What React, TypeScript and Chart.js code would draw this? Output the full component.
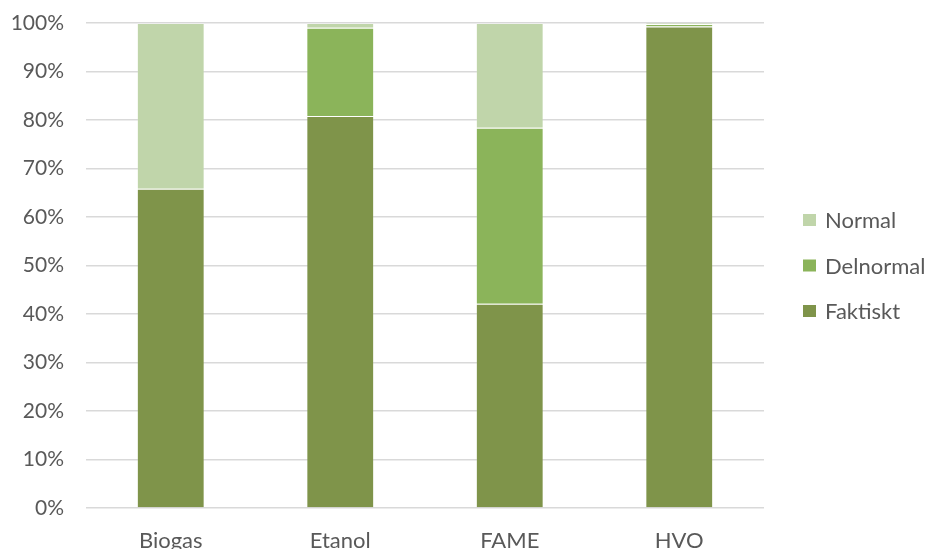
import React, { useEffect, useRef } from "react";
import { Chart, registerables } from "chart.js";

Chart.register(...registerables);

const categories = ["Biogas", "Etanol", "FAME", "HVO"];
const faktiskt = [65.8, 80.8, 42.1, 99.3];
const delnormal = [0, 18.2, 36.3, 0.5];
const normal = [34.2, 1.0, 21.6, 0.2];
const seriesNames = ["Faktiskt", "Delnormal", "Normal"];
const seriesColors = ["#7f944a", "#8bb45a", "#c0d5aa"];

const FONT = "Lato, 'Open Sans', sans-serif";
const TEXT = "#595959";

const sideLegend = {
  id: "sideLegend",
  afterDraw(chart: any) {
    const { ctx, chartArea } = chart;
    const ds = chart.data.datasets.slice().reverse();
    const spacing = 45.5;
    const cy = (chartArea.top + chartArea.bottom) / 2;
    const startY = cy - ((ds.length - 1) * spacing) / 2;
    ctx.save();
    ctx.font = `22px ${FONT}`;
    ctx.textBaseline = "middle";
    ds.forEach((d: any, i: number) => {
      const y = startY + i * spacing;
      ctx.fillStyle = d.backgroundColor;
      ctx.fillRect(chartArea.right + 39, y - 6, 13, 12);
      ctx.fillStyle = TEXT;
      ctx.fillText(d.label, chartArea.right + 61, y + 1);
    });
    ctx.restore();
  },
};

export default function App() {
  const ref = useRef<HTMLCanvasElement>(null);
  useEffect(() => {
    document.body.style.margin = "0";
    const values = [faktiskt, delnormal, normal];
    const chart = new Chart(ref.current!, {
      type: "bar",
      data: {
        labels: categories,
        datasets: seriesNames.map((name, i) => ({
          label: name,
          data: values[i],
          backgroundColor: seriesColors[i],
          borderColor: "rgba(255,255,255,0.12)",
          borderWidth: 1,
          categoryPercentage: 1,
          barPercentage: 0.4,
        })),
      },
      options: {
        animation: false,
        responsive: false,
        maintainAspectRatio: false,
        layout: { autoPadding: false, padding: { top: 23, right: 162, left: 0, bottom: 0 } },
        plugins: { legend: { display: false }, tooltip: { enabled: false } },
        scales: {
          x: {
            stacked: true,
            afterFit: (s: any) => {
              s.height = 41;
            },
            grid: { display: false, drawTicks: false },
            border: { display: false },
            ticks: { color: TEXT, font: { family: FONT, size: 22 }, padding: 20, maxRotation: 0 },
          },
          y: {
            stacked: true,
            min: 0,
            max: 100,
            afterFit: (s: any) => {
              s.width = 86;
              s.paddingTop = 0;
              s.paddingBottom = 0;
            },
            grid: { color: "#d9d9d9", lineWidth: 1.6, drawTicks: false },
            border: { display: false },
            ticks: {
              stepSize: 10,
              padding: 22,
              color: TEXT,
              font: { family: FONT, size: 21 },
              callback: (v: any) => v + "%",
            },
          },
        },
      },
      plugins: [sideLegend],
    });
    return () => chart.destroy();
  }, []);
  return (
    <div style={{ position: "fixed", left: 0, top: 0, width: 926, height: 549, overflow: "hidden", background: "#fff" }}>
      <canvas ref={ref} width={926} height={549} style={{ display: "block" }} />
    </div>
  );
}
